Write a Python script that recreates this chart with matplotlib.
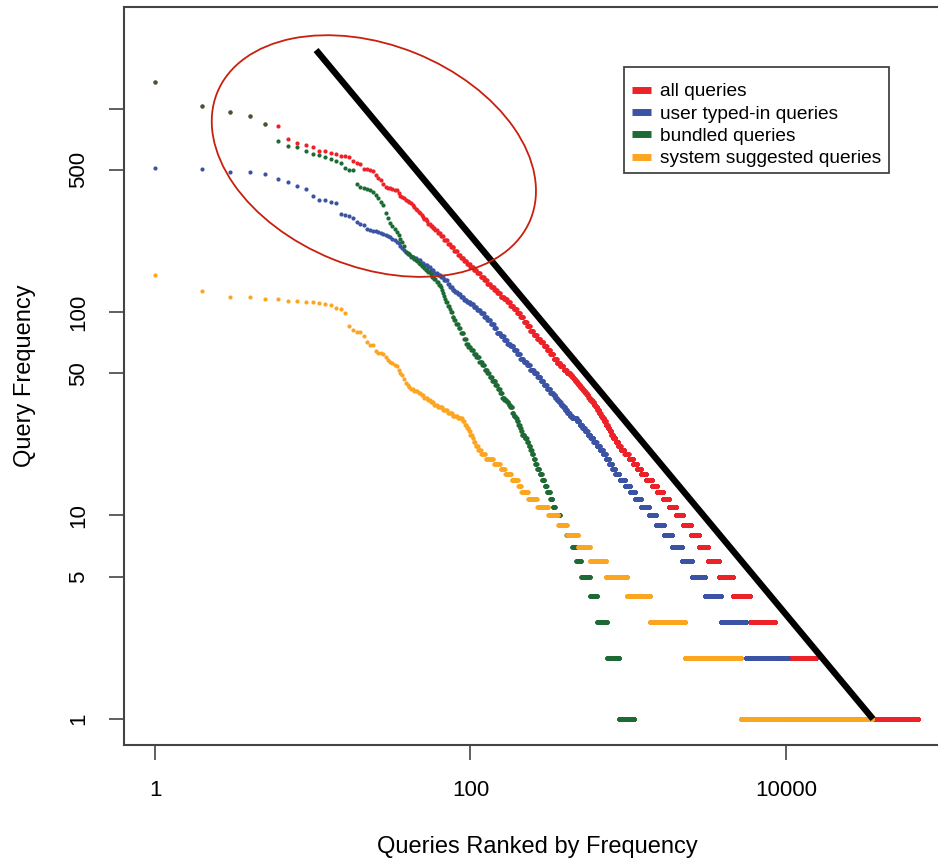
import numpy as np
import matplotlib
matplotlib.use('Agg')
import matplotlib.pyplot as plt
from matplotlib.lines import Line2D
from matplotlib.patches import Ellipse, Rectangle
from matplotlib.transforms import IdentityTransform

# rank-frequency data, stored run-length style:
# each level's frequency and the last rank that has it
red_freq = [1345, 1025, 958, 918, 836, 823, 708, 679, 659, 645, 618, 615, 605, 595, 587,
            583, 578, 552, 542, 535, 504, 502, 500, 495, 470, 455, 446,
            425, 412, 408, 405, 402, 399, 396, 385, 372, 367, 362, 357, 352, 348, 344,
            335, 327, 320, 317, 310, 305, 299, 294,
            285, 280, 272, 266, 259, 253, 245, 237, 226, 217, 208, 199, 191, 184, 178, 173,
            166, 160, 155, 149, 143, 138, 132, 128, 124, 119, 116, 112, 107, 103, 99,
            94, 89, 85, 81, 77, 74, 71, 68, 65, 62, 59, 56, 54, 52, 50,
            49, 48, 47, 46, 45, 44, 43, 42, 41, 40, 39, 38,
            37, 36, 35, 34, 33, 32, 31, 30,
            29, 28, 27, 26, 25, 24, 23, 22, 21, 20,
            19, 18, 17, 16, 15, 14, 13, 12, 11, 10,
            9, 8, 7, 6, 5, 4, 3, 2, 1]
red_last = list(range(1, 51)) + [
            52, 53, 55, 57, 59, 61, 64, 67, 71, 74, 78, 82, 86, 90, 94, 99,
            104, 109, 115, 121, 127, 133, 140, 147, 154, 162, 170, 178, 187, 196, 206,
            216, 227, 238, 250, 263, 276, 290, 304, 319, 335, 352, 369, 388, 407, 427,
            438, 449, 460, 471, 482, 494, 506, 519, 532, 545, 558, 572,
            590, 605, 620, 636, 652, 668, 684, 700,
            720, 740, 760, 780, 800, 830, 862, 895, 945, 1005,
            1072, 1136, 1204, 1295, 1413, 1520, 1660, 1812, 2006, 2224,
            2500, 2810, 3207, 3760, 4613, 5912, 8511, 15500, 68700]

blue_freq = [510, 502, 486, 486, 478, 449, 434, 414, 402, 372, 354, 354, 348, 342, 304,
             300, 295, 290, 276, 272, 268, 255, 253, 251, 251,
             248, 245, 242, 239, 236, 233, 229, 226, 222, 218, 212, 207, 202, 198,
             192, 187, 184, 180, 175, 170, 166, 161, 156, 152, 148, 144,
             138, 133, 129, 126, 122, 119, 115, 112,
             109, 106, 102, 99, 95, 91, 87, 83,
             79, 76, 73, 70, 68, 65, 62, 59, 57, 55,
             52, 50, 48, 46, 44, 42, 40,
             39, 38, 37, 36, 35, 34, 33, 32, 31, 30,
             29, 28, 27, 26, 25, 24, 23, 22, 21, 20,
             19, 18, 17, 16, 15, 14, 13, 12, 11, 10,
             9, 8, 7, 6, 5, 4, 3, 2, 1]
blue_last = list(range(1, 40)) + [
             41, 43, 45, 48, 50, 53, 55, 58, 61, 64, 67, 71,
             73, 76, 79, 82, 86, 90, 94, 99,
             104, 109, 115, 121, 127, 133, 140, 146,
             154, 162, 170, 178, 187, 196, 206, 216, 227, 238,
             251, 264, 277, 290, 304, 319, 334,
             343, 352, 362, 373, 385, 397, 410, 425, 440, 471,
             490, 510, 530, 552, 575, 600, 630, 660, 690, 720,
             755, 790, 826, 880, 953, 1025, 1104, 1204, 1354, 1500,
             1686, 1894, 2191, 2537, 3067, 3873, 5572, 10300, 32000]

green_freq = [1345, 1025, 958, 918, 836, 692, 651, 645, 617, 596, 590, 578, 565, 554, 538,
              508, 500, 497,
              428, 411, 405, 402, 398, 387, 376, 362, 349, 336, 305, 290, 273, 265, 256, 248,
              238, 229, 221, 210, 198, 195, 192, 189, 186, 183, 180, 178, 175, 173,
              168, 165, 161, 157, 153, 149, 145, 140, 136, 132,
              128, 124, 120, 116, 112, 107, 104, 100, 95, 91,
              87, 83, 79, 74, 70, 67, 65, 62, 60, 57,
              55, 52, 50, 48, 46, 44, 42, 40, 38, 37,
              36, 35, 34, 32, 31, 30, 29, 28, 27, 26,
              25, 24, 23, 22, 21, 20, 19, 18, 17, 16,
              15, 14, 13, 12, 11, 10, 9, 8, 7, 6,
              5, 4, 3, 2, 1]
green_last = list(range(1, 49)) + [
              50, 51, 53, 55, 56, 58, 60, 62, 64, 65,
              66, 67, 68, 69, 71, 73, 74, 76, 78, 80,
              83, 86, 90, 93, 96, 100, 104, 108, 113, 118,
              122, 127, 131, 136, 143, 148, 153, 158, 163, 169,
              174, 178, 183, 187, 192, 196, 200, 205, 208, 211,
              219, 227, 233, 239, 244, 250, 256, 263, 273, 283,
              294, 304, 319, 331, 343, 369, 405, 440, 466, 502,
              572, 634, 733, 874, 1087]

orange_freq = [152, 127, 119, 118, 116, 116, 113, 113, 112, 112, 111, 110, 108, 105, 103,
               99, 85, 82, 80, 80, 76, 71, 69, 69, 64, 63, 63, 62,
               60, 58, 57, 56, 55, 54, 52, 50, 49, 47, 45, 44, 43,
               42, 41, 40, 39, 38, 37, 36, 35, 34, 33,
               32, 31, 30, 29, 28, 27, 26, 25, 24, 23,
               22, 21, 20, 19, 18, 17, 16, 15, 14, 13,
               12, 11, 10, 9, 8, 7, 6, 5, 4, 3,
               2, 1]
orange_last = list(range(1, 42)) + [
               43, 46, 48, 50, 53, 55, 58, 61, 66, 71,
               76, 82, 88, 91, 94, 97, 99, 102, 104, 107,
               111, 116, 124, 139, 154, 165, 181, 200, 209, 231,
               264, 310, 359, 409, 480, 572, 722, 982, 1373, 2290,
               5186, 35100]

series = [
    ("all queries", red_freq, red_last, "#EC2228"),
    ("user typed-in queries", blue_freq, blue_last, "#3A53A4"),
    ("bundled queries", green_freq, green_last, "#1D6A34"),
    ("system suggested queries", orange_freq, orange_last, "#FCA521"),
]

# hand-drawn annotations: trend line and circled head
trend_rank = [10.5, 35600]
trend_freq = [1938, 1]
circle_center = (24.4, 584)

frame_col = "#444444"
plt.rcParams['font.family'] = ['Liberation Sans', 'DejaVu Sans']

W, H = 938, 860
fig = plt.figure(figsize=(W / 100, H / 100), dpi=100)
ax = fig.add_axes([124 / W, 1 - 745 / H, (950 - 124) / W, (745 - 7) / H])
ax.set_xscale('log')
ax.set_yscale('log')

handles = []
for name, freq, last, col in series:
    assert len(freq) == len(last), name
    counts = np.diff([0] + last)
    f = np.repeat(freq, counts)
    r = np.arange(1, len(f) + 1)
    ax.plot(r, f, 'o', ms=3.0, mew=0, color=col, zorder=2)
    handles.append(Line2D([], [], color=col, lw=5, solid_capstyle='butt'))

ax.set_xlim(0.636, 109600)
ax.set_ylim(0.745, 3154)

ax.plot(trend_rank, trend_freq, color='black', lw=4.6, solid_capstyle='butt', zorder=5)

# ellipse drawn in pixel space so the log axes do not warp it
cx, cy = ax.transData.transform(circle_center)
ax.add_patch(Ellipse((cx, cy), 338, 222, angle=-22, transform=IdentityTransform(),
                     fill=False, edgecolor='#C8200E', lw=1.3, zorder=6))

ax.set_xticks([1, 100, 10000])
ax.set_xticklabels(['1', '100', '10000'])
ax.set_yticks([1, 5, 10, 50, 100, 500, 1000])
ax.set_yticklabels(['1', '5', '10', '50', '100', '500', ''])
ax.minorticks_off()
ax.tick_params(direction='out', length=11, width=1.2, color=frame_col, labelsize=16, pad=14)
plt.setp(ax.get_yticklabels(), rotation=90, va='center')
for sp in ax.spines.values():
    sp.set_color(frame_col)
    sp.set_linewidth(1.5)

ax.set_xlabel('Queries Ranked by Frequency', fontsize=17, va='center')
ax.set_ylabel('Query Frequency', fontsize=17, va='center')
ax.xaxis.set_label_coords(0.5, (745 - 847) / 738)
ax.yaxis.set_label_coords((25 - 124) / 826, 0.5)

# legend entries without frame, box drawn separately (R style padding)
leg = ax.legend(handles, [s[0] for s in series], loc='upper left',
                bbox_to_anchor=(632 / W, 1 - 83 / H), bbox_transform=fig.transFigure,
                fontsize=13.8, handlelength=1.0, handletextpad=0.47, labelspacing=0.255,
                borderpad=0, borderaxespad=0, frameon=False)
leg.set_zorder(8)
ax.add_patch(Rectangle((624 / W, 1 - 173 / H), (889 - 624) / W, (173 - 67) / H,
                       transform=fig.transFigure, facecolor='white', clip_on=False,
                       edgecolor=frame_col, lw=1.3, zorder=7))

fig.savefig('out.png', dpi=100)
